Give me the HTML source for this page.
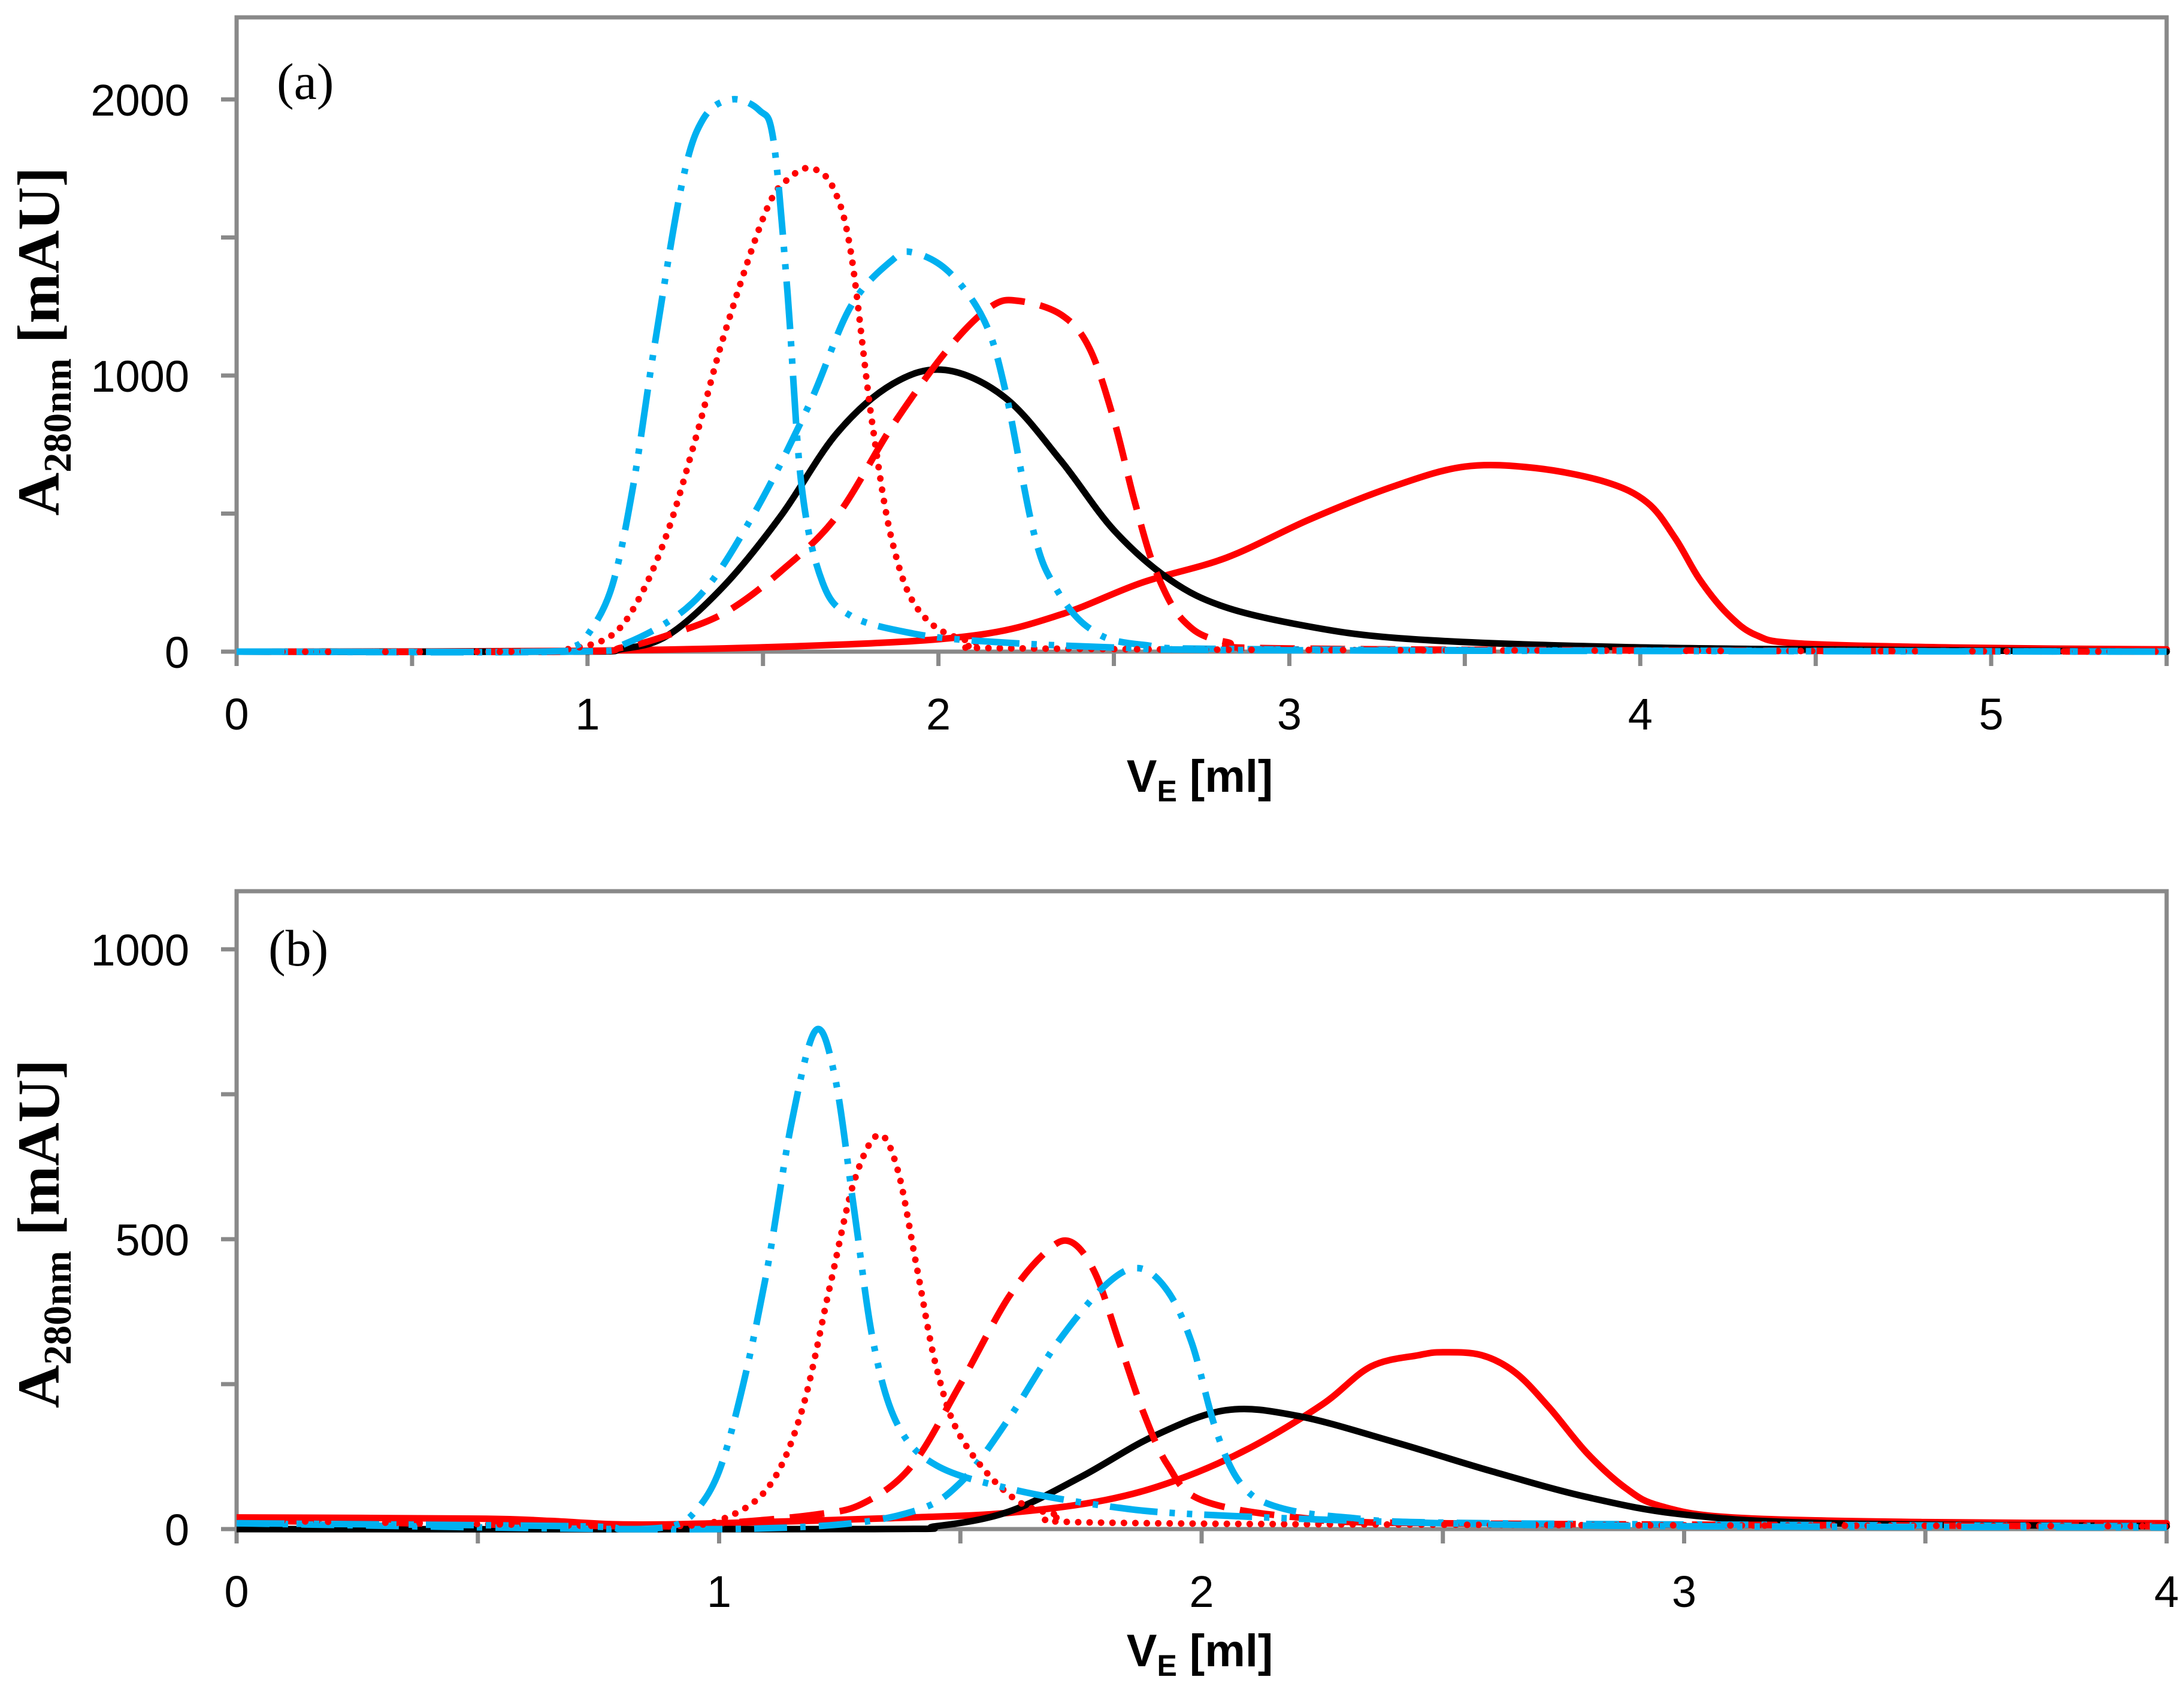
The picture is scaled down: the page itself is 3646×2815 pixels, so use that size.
<!DOCTYPE html>
<html><head><meta charset="utf-8"><style>
html,body{margin:0;padding:0;background:#fff}
svg{display:block}
.tick{font-family:"Liberation Sans",sans-serif;font-size:74px;fill:#000}
.ytitle{font-family:"Liberation Serif",serif;font-weight:bold;font-size:100px;fill:#000}
.xtitle{font-family:"Liberation Sans",sans-serif;font-weight:bold;font-size:76px;fill:#000}
.plabel{font-family:"Liberation Serif",serif;font-size:86px;fill:#000}
</style></head><body>
<svg id="chart" width="3646" height="2815" viewBox="0 0 3646 2815" xmlns="http://www.w3.org/2000/svg">
<rect width="3646" height="2815" fill="#fff"/>
<g id="pa"></g>
<g id="pb"></g>
</svg>
<script>
// ---- Panel (a) data ----
const aXTicks = [0,1,2,3,4,5];
const aYTicks = [0,1000,2000];
const aCyanDDD_x = [0,0.85,0.95,1.0,1.07,1.13,1.19,1.27,1.33,1.41,1.49,1.53,1.57,1.61,1.67,1.75,1.91,2.1,2.5,3,5.5];
const aCyanDDD_y = [0,0,15,60,237,600,1100,1700,1930,2000,1960,1850,1300,600,250,130,70,40,15,5,0];
const aRedDot_x = [0,0.8,0.95,1.07,1.15,1.23,1.31,1.39,1.51,1.58,1.64,1.70,1.75,1.81,1.87,1.95,2.1,2.4,5.5];
const aRedDot_y = [0,0,10,60,200,440,780,1150,1600,1720,1750,1680,1450,840,390,140,35,10,0];
const aCyanDash_x = [0,0.95,1.11,1.31,1.47,1.63,1.75,1.87,1.93,2.03,2.13,2.19,2.27,2.33,2.43,2.58,3.0,5.5];
const aCyanDash_y = [0,0,30,190,490,890,1250,1420,1445,1375,1200,950,440,240,85,25,8,0];
const aBlack_x = [0,0.95,1.1,1.23,1.39,1.55,1.71,1.87,2.02,2.19,2.35,2.5,2.66,2.82,3.06,3.3,3.7,4.3,5.5];
const aBlack_y = [0,0,10,60,240,490,790,970,1020,920,690,440,260,160,90,50,25,10,0];
const aRedDash_x = [0,0.95,1.1,1.23,1.39,1.55,1.71,1.87,2.03,2.15,2.23,2.35,2.43,2.5,2.56,2.62,2.7,2.82,3.1,5.5];
const aRedDash_y = [0,0,15,60,140,290,490,820,1100,1250,1270,1220,1100,840,540,290,110,35,10,0];
const aRed_x = [0,1.0,1.71,2.11,2.35,2.58,2.82,3.06,3.3,3.5,3.7,3.9,4.02,4.1,4.17,4.25,4.33,4.45,4.89,5.5];
const aRed_y = [0,3,25,60,135,250,340,480,600,670,665,615,540,410,260,135,60,30,15,8];
// ---- Panel (b) data ----
const bXTicks = [0,1,2,3,4];
const bYTicks = [0,500,1000];
const bCyanDDD_x = [0,0.7,0.8,0.9,0.95,1.0,1.05,1.1,1.15,1.2,1.24,1.28,1.32,1.37,1.45,1.6,1.8,2.0,2.5,3,4];
const bCyanDDD_y = [10,5,0,5,30,100,250,450,700,860,780,550,320,180,110,70,40,25,10,5,3];
const bRedDot_x = [0,0.8,0.9,1.0,1.1,1.17,1.23,1.28,1.33,1.37,1.41,1.45,1.5,1.6,1.7,1.9,4];
const bRedDot_y = [15,5,5,15,70,200,420,600,680,620,450,280,160,60,25,10,5];
const bRedDash_x = [0,0.8,1.0,1.2,1.3,1.4,1.5,1.6,1.68,1.73,1.78,1.83,1.88,1.93,2.0,2.2,2.5,4];
const bRedDash_y = [15,5,10,25,45,110,250,400,480,495,440,320,200,110,50,20,10,5];
const bCyanDash_x = [0,0.8,1.2,1.4,1.5,1.6,1.7,1.8,1.87,1.93,1.98,2.03,2.08,2.15,2.3,2.6,4];
const bCyanDash_y = [10,0,5,30,80,190,320,420,450,410,320,170,80,40,20,10,5];
const bBlack_x = [0,1.3,1.45,1.6,1.75,1.9,2.05,2.2,2.4,2.6,2.8,3.0,3.3,4];
const bBlack_y = [0,0,5,30,90,160,205,195,150,100,55,25,10,5];
const bRed_x = [0,0.5,0.65,0.8,1.0,1.4,1.6,1.8,1.95,2.1,2.25,2.35,2.45,2.5,2.58,2.65,2.72,2.8,2.88,2.95,3.1,3.5,4];
const bRed_y = [20,18,14,8,10,20,28,50,85,140,215,280,300,305,300,270,210,130,70,40,20,12,10];

const NS = "http://www.w3.org/2000/svg";
function mk(tag, attrs, parent){const e=document.createElementNS(NS,tag);for(const k in attrs)e.setAttribute(k,attrs[k]);parent.appendChild(e);return e;}

const RED="#FF0000", CYAN="#00B0F0", BLK="#000000", GRAY="#898989";
const STY = {
  ddd:{c:CYAN,d:"80 20 9 20 9 20",cap:"butt"},
  dot:{c:RED,d:"0.1 19",cap:"round"},
  cdash:{c:CYAN,d:"55 22 9 22",cap:"butt"},
  solidK:{c:BLK,d:"none",cap:"round"},
  rdash:{c:RED,d:"58 26",cap:"butt"},
  solidR:{c:RED,d:"none",cap:"round"}
};

function smoothPath(pts){
  let d="M"+pts[0][0].toFixed(1)+","+pts[0][1].toFixed(1);
  for(let i=0;i<pts.length-1;i++){
    const p0=pts[Math.max(0,i-1)],p1=pts[i],p2=pts[i+1],p3=pts[Math.min(pts.length-1,i+2)];
    const c1=[p1[0]+(p2[0]-p0[0])/6,p1[1]+(p2[1]-p0[1])/6];
    const c2=[p2[0]-(p3[0]-p1[0])/6,p2[1]-(p3[1]-p1[1])/6];
    d+="C"+c1[0].toFixed(1)+","+c1[1].toFixed(1)+" "+c2[0].toFixed(1)+","+c2[1].toFixed(1)+" "+p2[0].toFixed(1)+","+p2[1].toFixed(1);
  }
  return d;
}

function panel(g, cfg){
  const {L,R,T,B,xmax,ymax}=cfg;
  const sx=v=>L+(R-L)*v/xmax;
  const sy=v=>B-(B-cfg.yTopRef)*v/cfg.yTopVal;
  const frame=mk("rect",{x:L,y:T,width:R-L,height:B-T,fill:"none",stroke:GRAY,"stroke-width":7},g);
  
  
  for(let v=0;v<=ymax+1e-9;v+=cfg.ystep/2){
    const t=mk("line",{x1:L-26,x2:L,y1:sy(v),y2:sy(v),stroke:GRAY,"stroke-width":7},g);
    
    
  }
  cfg.yTicks.forEach(v=>{
    const t=mk("text",{x:316,y:sy(v)+27,"text-anchor":"end",class:"tick"},g);
    t.textContent=v;
    
    
  });
  for(let v=0;v<=xmax+1e-9;v+=0.5){
    const t=mk("line",{x1:sx(v),x2:sx(v),y1:B,y2:B+24,stroke:GRAY,"stroke-width":7},g);
    
    
  }
  cfg.xTicks.forEach(v=>{
    const t=mk("text",{x:sx(v),y:B+130,"text-anchor":"middle",class:"tick"},g);
    t.textContent=v;
    
    
  });
  const cid="clip"+cfg.id;
  const cp=mk("clipPath",{id:cid},g);
  mk("rect",{x:L,y:T,width:R-L+8,height:B-T+8},cp);
  const sg=mk("g",{"clip-path":"url(#"+cid+")"},g);
  cfg.series.forEach(s=>{
    const st=STY[s.style];
    const pts=s.x.map((xv,i)=>[sx(xv),sy(s.y[i])]);
    const p=mk("path",{d:smoothPath(pts),fill:"none",stroke:st.c,"stroke-width":11,"stroke-linecap":st.cap,"stroke-linejoin":"round"},sg);
    if(st.d!=="none")p.setAttribute("stroke-dasharray",st.d);
    
    
  });
  const yt=mk("text",{transform:"translate(98,"+cfg.ytY+") rotate(-90)","text-anchor":"middle",class:"ytitle"},g);
  
  
  const a=mk("tspan",{},yt);a.textContent="A";
  const sub=mk("tspan",{"font-size":"66","dy":"20"},yt);sub.textContent="280nm";
  const rest=mk("tspan",{"dy":"-20"},yt);rest.textContent=" [mAU]";
  const xt=mk("text",{x:2003,y:cfg.xtY,"text-anchor":"middle",class:"xtitle"},g);
  
  
  const v=mk("tspan",{},xt);v.textContent="V";
  const e=mk("tspan",{"font-size":"50","dy":"16"},xt);e.textContent="E";
  const r2=mk("tspan",{"dy":"-16"},xt);r2.textContent=" [ml]";
  const pl=mk("text",{x:cfg.plX,y:cfg.plY,class:"plabel"},g);
  pl.textContent=cfg.label;
  
  
}

panel(document.getElementById("pa"),{
  id:"a",L:395,R:3617,T:29,B:1088,xmax:5.5,ymax:2000,ystep:1000,yTopRef:166,yTopVal:2000,
  xTicks:aXTicks,yTicks:aYTicks,ytY:570,xtY:1322,plX:462,plY:165,label:"(a)",
  series:[
    {name:"series-red-solid",style:"solidR",x:aRed_x,y:aRed_y},
    {name:"series-black-solid",style:"solidK",x:aBlack_x,y:aBlack_y},
    {name:"series-red-dashed",style:"rdash",x:aRedDash_x,y:aRedDash_y},
    {name:"series-cyan-dashdot",style:"cdash",x:aCyanDash_x,y:aCyanDash_y},
    {name:"series-red-dotted",style:"dot",x:aRedDot_x,y:aRedDot_y},
    {name:"series-cyan-dashdotdot",style:"ddd",x:aCyanDDD_x,y:aCyanDDD_y}
  ]
});
panel(document.getElementById("pb"),{
  id:"b",L:395,R:3617,T:1488,B:2553,xmax:4,ymax:1000,ystep:500,yTopRef:1585,yTopVal:1000,
  xTicks:bXTicks,yTicks:bYTicks,ytY:2060,xtY:2782,plX:448,plY:1612,label:"(b)",
  series:[
    {name:"series-red-solid",style:"solidR",x:bRed_x,y:bRed_y},
    {name:"series-black-solid",style:"solidK",x:bBlack_x,y:bBlack_y},
    {name:"series-red-dashed",style:"rdash",x:bRedDash_x,y:bRedDash_y},
    {name:"series-cyan-dashdot",style:"cdash",x:bCyanDash_x,y:bCyanDash_y},
    {name:"series-red-dotted",style:"dot",x:bRedDot_x,y:bRedDot_y},
    {name:"series-cyan-dashdotdot",style:"ddd",x:bCyanDDD_x,y:bCyanDDD_y}
  ]
});
</script>
</body></html>
